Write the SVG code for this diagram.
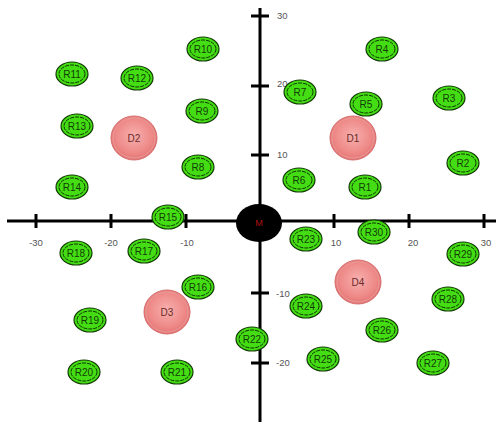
<svg xmlns="http://www.w3.org/2000/svg" width="502" height="422" viewBox="0 0 502 422">
<defs>
<radialGradient id="gD" cx="50%" cy="45%" r="55%">
<stop offset="0" stop-color="#f7b0ae"/>
<stop offset="0.7" stop-color="#ee8a88"/>
<stop offset="1" stop-color="#e27372"/>
</radialGradient>
<style>
.ax{stroke:#000;stroke-width:3;fill:none}
.tk{stroke:#000;stroke-width:3}
.lb{font-family:"Liberation Sans",Arial,sans-serif;font-size:9.5px;fill:#555}
.r .o{fill:#44dd14;stroke:#123d04;stroke-width:1.2}
.r .i{fill:none;stroke:#0f3303;stroke-width:1;stroke-dasharray:4 1}
.r text{font-family:"Liberation Sans",Arial,sans-serif;font-size:10px;fill:#123d05;text-anchor:middle;dominant-baseline:central}
.d .o{fill:url(#gD);stroke:#d66a6a;stroke-width:1}
.d .i{fill:none;stroke:#e89a98;stroke-width:1}
.d text{font-family:"Liberation Sans",Arial,sans-serif;font-size:10px;fill:#6a2a2a;text-anchor:middle;dominant-baseline:central}
</style>
</defs>
<rect width="502" height="422" fill="#fff"/>
<g id="axes">
<line class="ax" x1="7" y1="221" x2="496" y2="221"/>
<line class="ax" x1="260" y1="8" x2="260" y2="422"/>
<line class="tk" x1="36" y1="214" x2="36" y2="228"/>
<line class="tk" x1="111" y1="214" x2="111" y2="228"/>
<line class="tk" x1="186" y1="214" x2="186" y2="228"/>
<line class="tk" x1="334" y1="214" x2="334" y2="228"/>
<line class="tk" x1="409" y1="214" x2="409" y2="228"/>
<line class="tk" x1="484" y1="214" x2="484" y2="228"/>
<line class="tk" x1="251" y1="16" x2="269" y2="16"/>
<line class="tk" x1="251" y1="86" x2="269" y2="86"/>
<line class="tk" x1="251" y1="155" x2="269" y2="155"/>
<line class="tk" x1="251" y1="293" x2="269" y2="293"/>
<line class="tk" x1="251" y1="363" x2="269" y2="363"/>
<text class="lb" x="36" y="246" text-anchor="middle">-30</text>
<text class="lb" x="111" y="246" text-anchor="middle">-20</text>
<text class="lb" x="187" y="246" text-anchor="middle">-10</text>
<text class="lb" x="336" y="246" text-anchor="middle">10</text>
<text class="lb" x="413" y="246" text-anchor="middle">20</text>
<text class="lb" x="486" y="246" text-anchor="middle">30</text>
<text class="lb" x="277" y="19">30</text>
<text class="lb" x="277" y="87">20</text>
<text class="lb" x="277" y="158">10</text>
<text class="lb" x="276" y="297">-10</text>
<text class="lb" x="276" y="366">-20</text>
</g>
<g id="M">
<ellipse cx="259" cy="223" rx="23" ry="19" fill="#000"/>
<text x="259" y="223" font-family="Liberation Sans,Arial,sans-serif" font-size="9" fill="#b01010" text-anchor="middle" dominant-baseline="central">M</text>
</g>
<g id="D1" class="d"><ellipse class="o" cx="353" cy="138" rx="23" ry="22"/><ellipse class="i" cx="353" cy="138" rx="21" ry="20"/><text x="353" y="138">D1</text></g>
<g id="D2" class="d"><ellipse class="o" cx="134" cy="138" rx="23" ry="22"/><ellipse class="i" cx="134" cy="138" rx="21" ry="20"/><text x="134" y="138">D2</text></g>
<g id="D3" class="d"><ellipse class="o" cx="167" cy="312" rx="23" ry="22"/><ellipse class="i" cx="167" cy="312" rx="21" ry="20"/><text x="167" y="312">D3</text></g>
<g id="D4" class="d"><ellipse class="o" cx="358" cy="282" rx="23" ry="22"/><ellipse class="i" cx="358" cy="282" rx="21" ry="20"/><text x="358" y="282">D4</text></g>
<g id="R1" class="r"><ellipse class="o" cx="365" cy="187" rx="16" ry="12"/><ellipse class="i" cx="365" cy="187" rx="13" ry="9"/><text x="365" y="187">R1</text></g>
<g id="R2" class="r"><ellipse class="o" cx="463" cy="163" rx="16" ry="12"/><ellipse class="i" cx="463" cy="163" rx="13" ry="9"/><text x="463" y="163">R2</text></g>
<g id="R3" class="r"><ellipse class="o" cx="449" cy="98" rx="16" ry="12"/><ellipse class="i" cx="449" cy="98" rx="13" ry="9"/><text x="449" y="98">R3</text></g>
<g id="R4" class="r"><ellipse class="o" cx="382" cy="49" rx="16" ry="12"/><ellipse class="i" cx="382" cy="49" rx="13" ry="9"/><text x="382" y="49">R4</text></g>
<g id="R5" class="r"><ellipse class="o" cx="366" cy="104" rx="16" ry="12"/><ellipse class="i" cx="366" cy="104" rx="13" ry="9"/><text x="366" y="104">R5</text></g>
<g id="R6" class="r"><ellipse class="o" cx="299" cy="180" rx="16" ry="12"/><ellipse class="i" cx="299" cy="180" rx="13" ry="9"/><text x="299" y="180">R6</text></g>
<g id="R7" class="r"><ellipse class="o" cx="300" cy="92" rx="16" ry="12"/><ellipse class="i" cx="300" cy="92" rx="13" ry="9"/><text x="300" y="92">R7</text></g>
<g id="R8" class="r"><ellipse class="o" cx="198" cy="167" rx="16" ry="12"/><ellipse class="i" cx="198" cy="167" rx="13" ry="9"/><text x="198" y="167">R8</text></g>
<g id="R9" class="r"><ellipse class="o" cx="202" cy="111" rx="16" ry="12"/><ellipse class="i" cx="202" cy="111" rx="13" ry="9"/><text x="202" y="111">R9</text></g>
<g id="R10" class="r"><ellipse class="o" cx="203" cy="49" rx="16" ry="12"/><ellipse class="i" cx="203" cy="49" rx="13" ry="9"/><text x="203" y="49">R10</text></g>
<g id="R11" class="r"><ellipse class="o" cx="72" cy="74" rx="16" ry="12"/><ellipse class="i" cx="72" cy="74" rx="13" ry="9"/><text x="72" y="74">R11</text></g>
<g id="R12" class="r"><ellipse class="o" cx="137" cy="78" rx="16" ry="12"/><ellipse class="i" cx="137" cy="78" rx="13" ry="9"/><text x="137" y="78">R12</text></g>
<g id="R13" class="r"><ellipse class="o" cx="77" cy="126" rx="16" ry="12"/><ellipse class="i" cx="77" cy="126" rx="13" ry="9"/><text x="77" y="126">R13</text></g>
<g id="R14" class="r"><ellipse class="o" cx="72" cy="187" rx="16" ry="12"/><ellipse class="i" cx="72" cy="187" rx="13" ry="9"/><text x="72" y="187">R14</text></g>
<g id="R15" class="r"><ellipse class="o" cx="168" cy="217" rx="16" ry="12"/><ellipse class="i" cx="168" cy="217" rx="13" ry="9"/><text x="168" y="217">R15</text></g>
<g id="R16" class="r"><ellipse class="o" cx="198" cy="287" rx="16" ry="12"/><ellipse class="i" cx="198" cy="287" rx="13" ry="9"/><text x="198" y="287">R16</text></g>
<g id="R17" class="r"><ellipse class="o" cx="144" cy="251" rx="16" ry="12"/><ellipse class="i" cx="144" cy="251" rx="13" ry="9"/><text x="144" y="251">R17</text></g>
<g id="R18" class="r"><ellipse class="o" cx="76" cy="253" rx="16" ry="12"/><ellipse class="i" cx="76" cy="253" rx="13" ry="9"/><text x="76" y="253">R18</text></g>
<g id="R19" class="r"><ellipse class="o" cx="90" cy="320" rx="16" ry="12"/><ellipse class="i" cx="90" cy="320" rx="13" ry="9"/><text x="90" y="320">R19</text></g>
<g id="R20" class="r"><ellipse class="o" cx="84" cy="372" rx="16" ry="12"/><ellipse class="i" cx="84" cy="372" rx="13" ry="9"/><text x="84" y="372">R20</text></g>
<g id="R21" class="r"><ellipse class="o" cx="177" cy="372" rx="16" ry="12"/><ellipse class="i" cx="177" cy="372" rx="13" ry="9"/><text x="177" y="372">R21</text></g>
<g id="R22" class="r"><ellipse class="o" cx="252" cy="339" rx="16" ry="12"/><ellipse class="i" cx="252" cy="339" rx="13" ry="9"/><text x="252" y="339">R22</text></g>
<g id="R23" class="r"><ellipse class="o" cx="306" cy="239" rx="16" ry="12"/><ellipse class="i" cx="306" cy="239" rx="13" ry="9"/><text x="306" y="239">R23</text></g>
<g id="R24" class="r"><ellipse class="o" cx="306" cy="306" rx="16" ry="12"/><ellipse class="i" cx="306" cy="306" rx="13" ry="9"/><text x="306" y="306">R24</text></g>
<g id="R25" class="r"><ellipse class="o" cx="323" cy="359" rx="16" ry="12"/><ellipse class="i" cx="323" cy="359" rx="13" ry="9"/><text x="323" y="359">R25</text></g>
<g id="R26" class="r"><ellipse class="o" cx="382" cy="330" rx="16" ry="12"/><ellipse class="i" cx="382" cy="330" rx="13" ry="9"/><text x="382" y="330">R26</text></g>
<g id="R27" class="r"><ellipse class="o" cx="433" cy="363" rx="16" ry="12"/><ellipse class="i" cx="433" cy="363" rx="13" ry="9"/><text x="433" y="363">R27</text></g>
<g id="R28" class="r"><ellipse class="o" cx="448" cy="299" rx="16" ry="12"/><ellipse class="i" cx="448" cy="299" rx="13" ry="9"/><text x="448" y="299">R28</text></g>
<g id="R29" class="r"><ellipse class="o" cx="463" cy="254" rx="16" ry="12"/><ellipse class="i" cx="463" cy="254" rx="13" ry="9"/><text x="463" y="254">R29</text></g>
<g id="R30" class="r"><ellipse class="o" cx="374" cy="232" rx="16" ry="12"/><ellipse class="i" cx="374" cy="232" rx="13" ry="9"/><text x="374" y="232">R30</text></g>
<g id="connectors"></g>
</svg>
